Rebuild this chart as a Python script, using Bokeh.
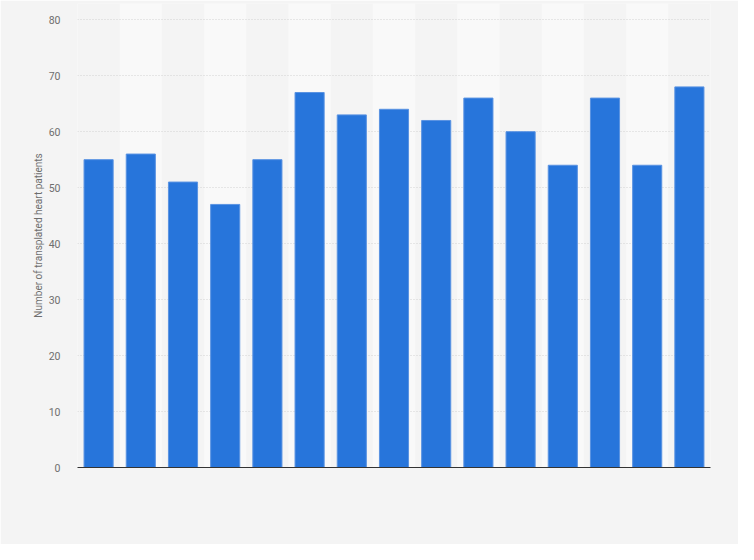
from bokeh.plotting import figure
from bokeh.models import FixedTicker, Range1d
from bokeh.embed import file_html
from bokeh.resources import INLINE

# Data
positions = list(range(1, 16))
patients = [55, 56, 51, 47, 55, 67, 63, 64, 62, 66, 60, 54, 66, 54, 68]
y_ticks = [0, 10, 20, 30, 40, 50, 60, 70, 80]
y_title = "Number of transplated heart patients"

BG = "#f4f4f4"
y_top = 82.9

p = figure(width=738, height=544, output_backend="svg", toolbar_location=None,
           x_range=Range1d(0.5, 15.5), y_range=Range1d(0, y_top),
           min_border_left=77, min_border_right=28, min_border_top=3, min_border_bottom=77)
p.background_fill_color = BG
p.border_fill_color = BG
p.outline_line_color = None

# alternating background bands
band_x = [x for x in positions if x % 2 == 0]
p.vbar(x=band_x, width=1, top=y_top, bottom=0, fill_color="#f9f9f9", line_color=None, level="underlay")

p.vbar(x=positions, width=0.69, top=patients, bottom=0,
       fill_color="#2775db", line_color="#5a93e2", line_width=1)

# axes
p.xaxis.ticker = FixedTicker(ticks=[])
p.xaxis.axis_line_color = "#333333"
p.xaxis.axis_line_width = 1.2
p.xaxis.major_tick_line_color = None
p.xaxis.minor_tick_line_color = None
p.xaxis.major_label_text_font_size = "0px"

p.yaxis.ticker = FixedTicker(ticks=y_ticks)
p.yaxis.axis_line_color = None
p.yaxis.major_tick_line_color = None
p.yaxis.minor_tick_line_color = None
p.yaxis.major_label_text_font = "Roboto"
p.yaxis.major_label_text_font_size = "10.5px"
p.yaxis.major_label_text_color = "#6e6e6e"
p.yaxis.major_label_standoff = 11
p.yaxis.axis_label = y_title
p.yaxis.axis_label_text_font = "Roboto"
p.yaxis.axis_label_text_font_size = "10px"
p.yaxis.axis_label_text_font_style = "normal"
p.yaxis.axis_label_text_color = "#6e6e6e"
p.yaxis.axis_label_standoff = 2

p.xgrid.grid_line_color = None
p.ygrid.grid_line_color = "#d2d2d2"
p.ygrid.grid_line_dash = "1 2"
p.ygrid.grid_line_width = 1

html = file_html(p, INLINE)
html = html.replace("<body>", '<body style="background:#f4f4f4">', 1)
open("out.html", "w").write(html)
